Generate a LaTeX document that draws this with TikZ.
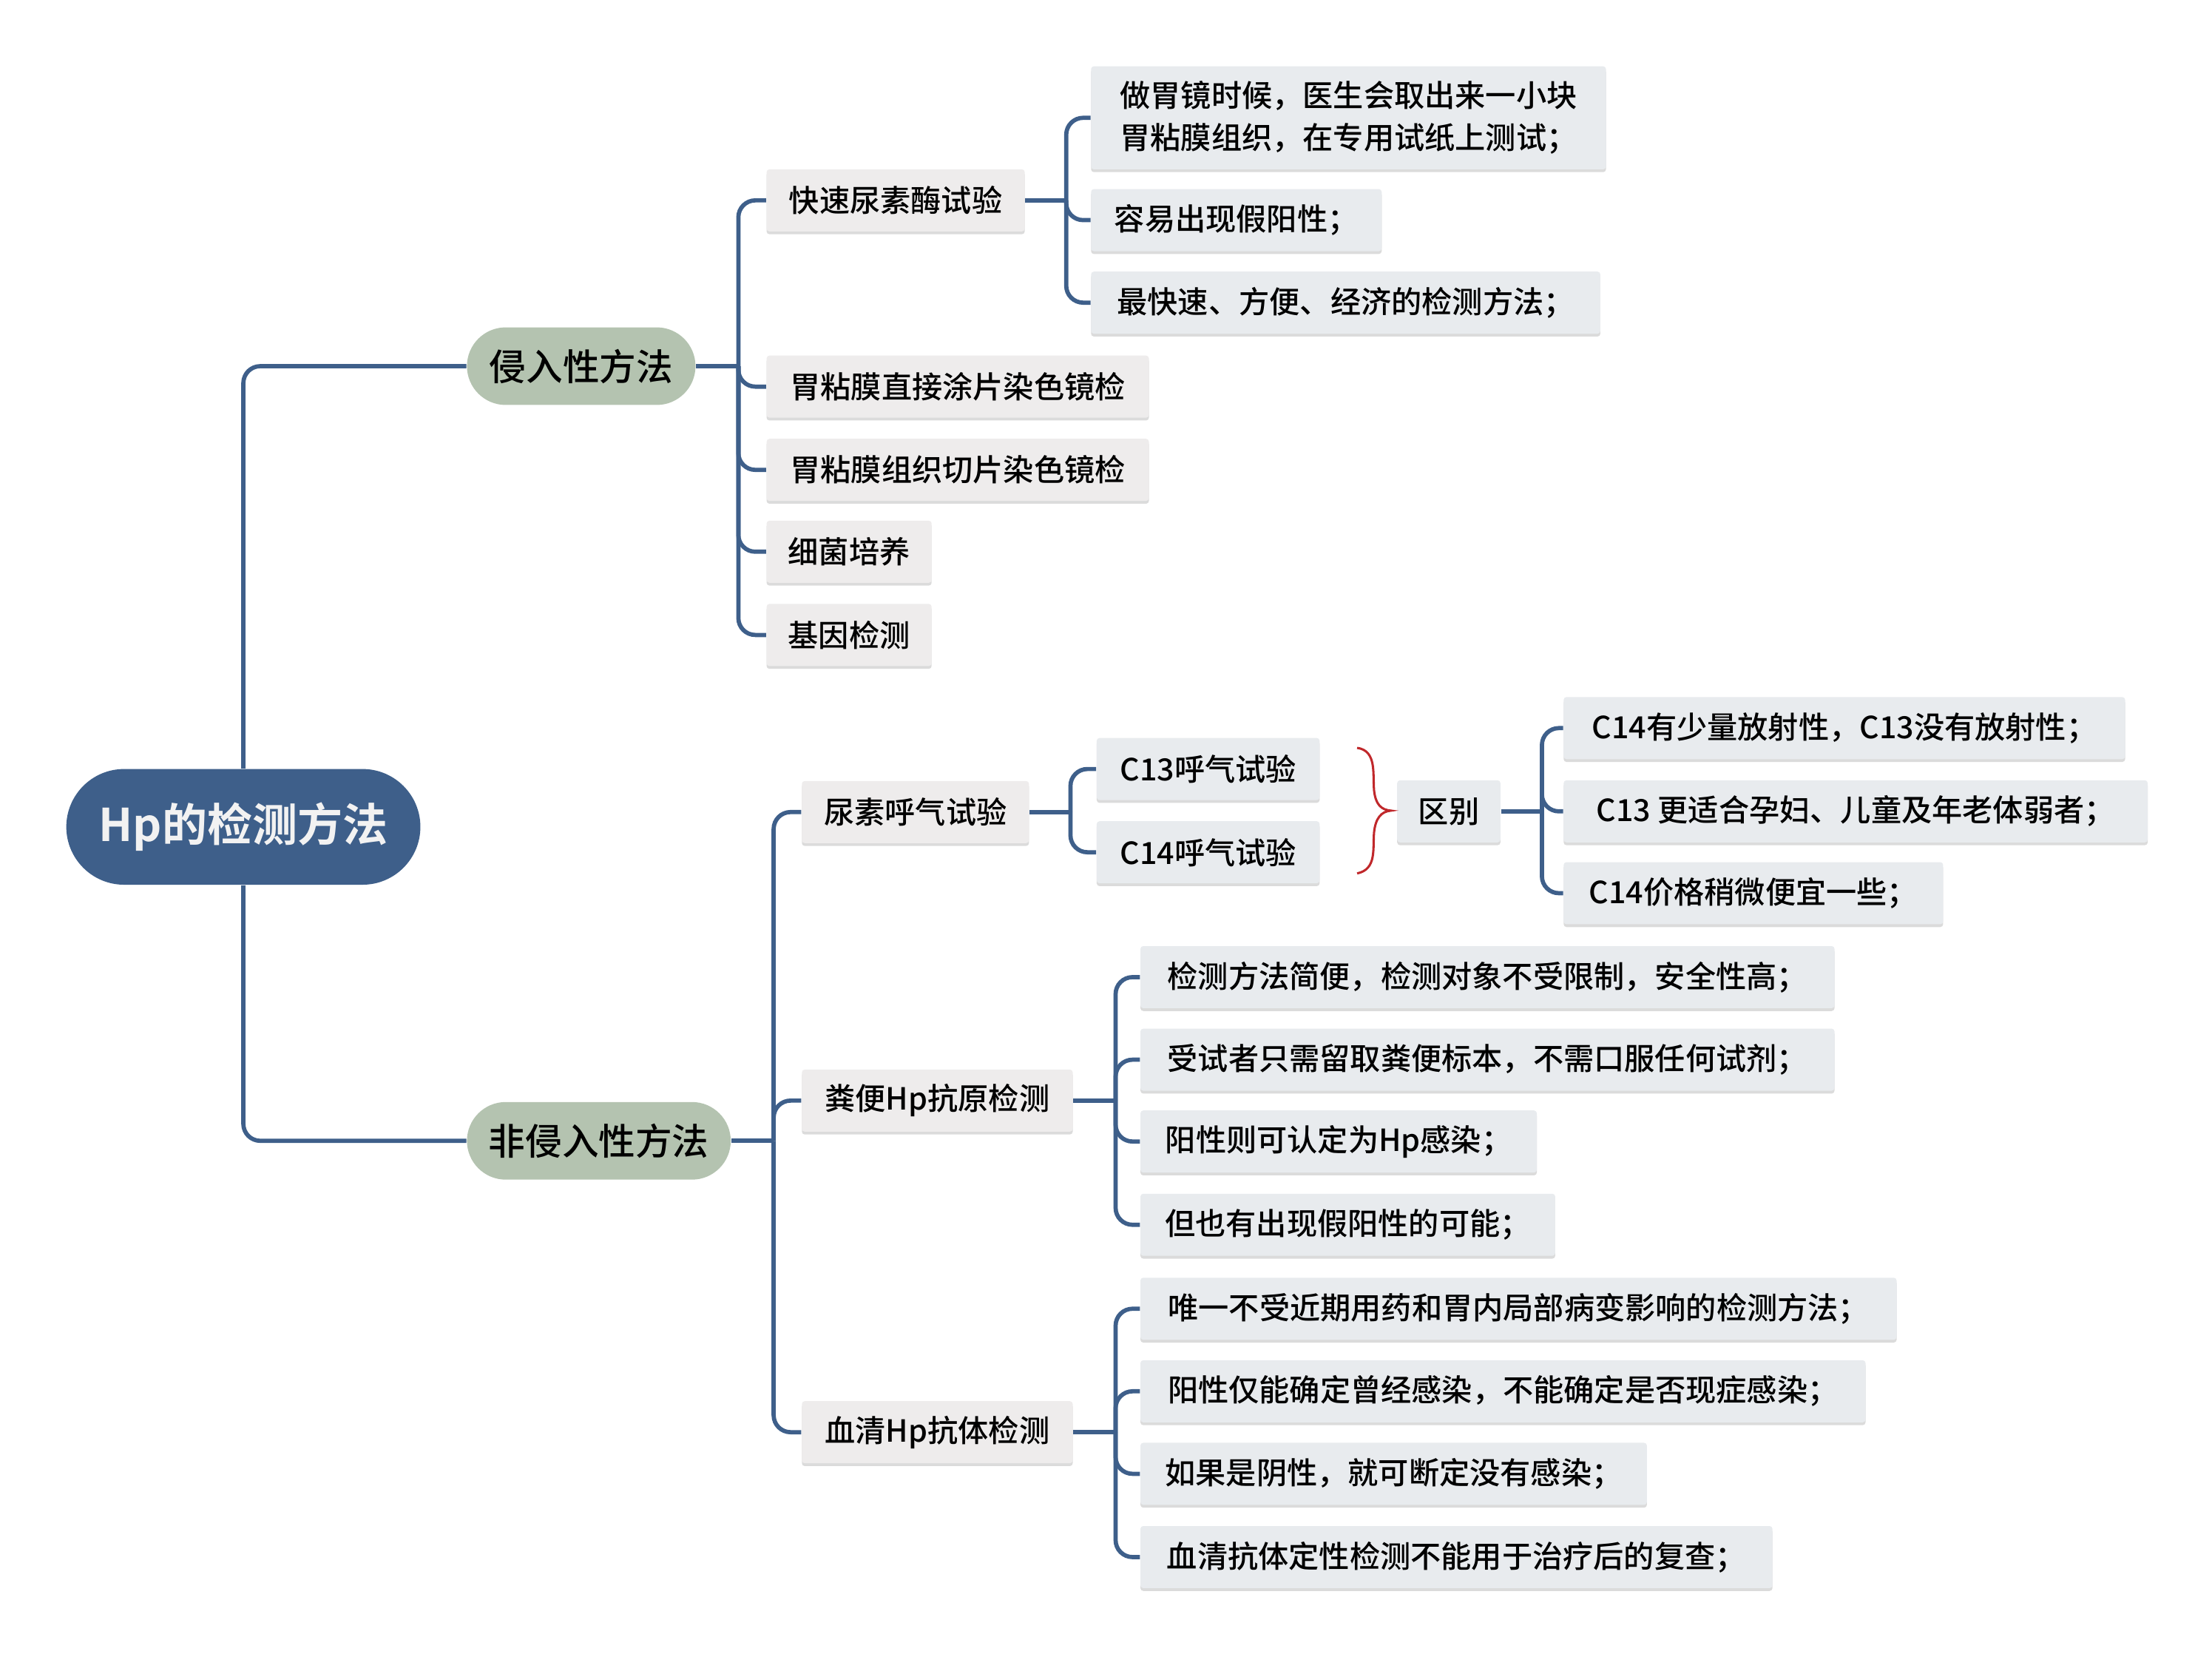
\documentclass[tikz,border=0pt]{standalone}
\usepackage{fontspec}
\setmainfont{Noto Sans CJK SC}[UprightFont={Noto Sans CJK SC Medium}, BoldFont={Noto Sans CJK SC Bold}]
\usetikzlibrary{shadows}
\definecolor{rootblue}{RGB}{62,95,138}
\definecolor{sage}{RGB}{180,195,176}
\definecolor{boxa}{RGB}{238,236,236}
\definecolor{boxb}{RGB}{232,235,238}
\definecolor{bracered}{RGB}{192,40,43}
\definecolor{lineblue}{RGB}{62,95,138}
\begin{document}
\begin{tikzpicture}[x=0.5pt,y=-0.5pt,
 conn/.style={draw=lineblue, line width=1.5pt, rounded corners=6pt},
 rootnode/.style={fill=rootblue, text=white!95!black, rounded corners=20.5pt, minimum width=125.5pt, minimum height=41pt, font=\fontsize{16}{19}\selectfont\bfseries, inner sep=0pt},
 mainnode/.style={fill=sage, rounded corners=13.75pt, minimum height=27.5pt, font=\fontsize{13}{15}\selectfont, inner sep=0pt},
 boxnode/.style={anchor=west, minimum height=22pt, inner xsep=7.5pt, inner ysep=0pt, rounded corners=1pt, font=\fontsize{10.8}{15}\selectfont, drop shadow={shadow xshift=0pt, shadow yshift=-1pt, fill=black!14, opacity=1}},
 subnode/.style={boxnode, fill=boxa},
 leafnode/.style={boxnode, fill=boxb},
]
\useasboundingbox (0,0) rectangle (1568,1172);

% root and main branches
\node[rootnode] (root) at (172.5,586) {Hp的检测方法};
\node[mainnode, minimum width=81pt] (inv) at (412,259.5) {侵入性方法};
\node[mainnode, minimum width=93.5pt] (non) at (424.5,808.5) {非侵入性方法};

% invasive
\node[subnode, minimum width=91.5pt] (kuai) at (543,142) {快速尿素酶试验};
\node[subnode, minimum width=135.5pt] (tupian) at (543,274) {胃粘膜直接涂片染色镜检};
\node[subnode, minimum width=135.5pt] (qiepian) at (543,333) {胃粘膜组织切片染色镜检};
\node[subnode, minimum width=58.5pt] (peiyang) at (543,391) {细菌培养};
\node[subnode, minimum width=58.5pt] (jiyin) at (543,450) {基因检测};

\node[leafnode, minimum width=182.5pt, minimum height=36.5pt, align=left] (k1) at (773,83.5) {做胃镜时候，医生会取出来一小块\\胃粘膜组织，在专用试纸上测试；};
\node[leafnode, minimum width=103pt] (k2) at (773,156) {容易出现假阳性；};
\node[leafnode, minimum width=180.5pt] (k3) at (773,214.5) {最快速、方便、经济的检测方法；};

% non-invasive
\node[subnode, minimum width=80.5pt] (niao) at (568,575.5) {尿素呼气试验};
\node[subnode, minimum width=96pt] (fen) at (568,780) {粪便Hp抗原检测};
\node[subnode, minimum width=96pt] (xue) at (568,1015) {血清Hp抗体检测};

\node[leafnode, minimum width=79pt] (c13) at (777,545) {C13呼气试验};
\node[leafnode, minimum width=79pt] (c14) at (777,604) {C14呼气试验};
\node[leafnode, minimum width=35pt] (qb) at (990,575) {区别};
\node[leafnode, minimum width=199pt] (q1) at (1108,516) {C14有少量放射性，C13没有放射性；};
\node[leafnode, minimum width=207pt] (q2) at (1108,575) {C13 更适合孕妇、儿童及年老体弱者；};
\node[leafnode, minimum width=134.5pt] (q3) at (1108,633) {C14价格稍微便宜一些；};

\node[leafnode, minimum width=246pt] (f1) at (808,692.5) {检测方法简便，检测对象不受限制，安全性高；};
\node[leafnode, minimum width=246pt] (f2) at (808,751) {受试者只需留取粪便标本，不需口服任何试剂；};
\node[leafnode, minimum width=140.5pt] (f3) at (808,809) {阳性则可认定为Hp感染；};
\node[leafnode, minimum width=147pt] (f4) at (808,868) {但也有出现假阳性的可能；};

\node[leafnode, minimum width=268pt] (x1) at (808,927.5) {唯一不受近期用药和胃内局部病变影响的检测方法；};
\node[leafnode, minimum width=257pt] (x2) at (808,986) {阳性仅能确定曾经感染，不能确定是否现症感染；};
\node[leafnode, minimum width=179.5pt] (x3) at (808,1044.5) {如果是阴性，就可断定没有感染；};
\node[leafnode, minimum width=224pt] (x4) at (808,1103.5) {血清抗体定性检测不能用于治疗后的复查；};

% connectors
\draw[conn] (root.north) |- (inv.west);
\draw[conn] (root.south) |- (non.west);

\path (inv.east) ++(30,0) coordinate (jinv);
\draw[conn] (inv.east) -- (jinv);
\foreach \c in {kuai,tupian,qiepian,peiyang,jiyin} \draw[conn] (jinv) |- (\c.west);

\path (kuai.east) ++(29,0) coordinate (jkuai);
\draw[conn] (kuai.east) -- (jkuai);
\foreach \c in {k1,k2,k3} \draw[conn] (jkuai) |- (\c.west);

\path (non.east) ++(30,0) coordinate (jnon);
\draw[conn] (non.east) -- (jnon);
\foreach \c in {niao,fen,xue} \draw[conn] (jnon) |- (\c.west);

\path (niao.east) ++(29,0) coordinate (jniao);
\draw[conn] (niao.east) -- (jniao);
\foreach \c in {c13,c14} \draw[conn] (jniao) |- (\c.west);

\path (qb.east) ++(29,0) coordinate (jqb);
\draw[conn] (qb.east) -- (jqb);
\foreach \c in {q1,q2,q3} \draw[conn] (jqb) |- (\c.west);

\path (fen.east) ++(30,0) coordinate (jfen);
\draw[conn] (fen.east) -- (jfen);
\foreach \c in {f1,f2,f3,f4} \draw[conn] (jfen) |- (\c.west);

\path (xue.east) ++(30,0) coordinate (jxue);
\draw[conn] (xue.east) -- (jxue);
\foreach \c in {x1,x2,x3,x4} \draw[conn] (jxue) |- (\c.west);

% summary brace
\draw[bracered, line width=0.8pt] (962,530) .. controls (976,532) and (973,548) .. (974,560) .. controls (975,570) and (979,574) .. (986,574.5) .. controls (979,575) and (975,580) .. (974,590) .. controls (973,602) and (976,616) .. (962,619);
\end{tikzpicture}
\end{document}
